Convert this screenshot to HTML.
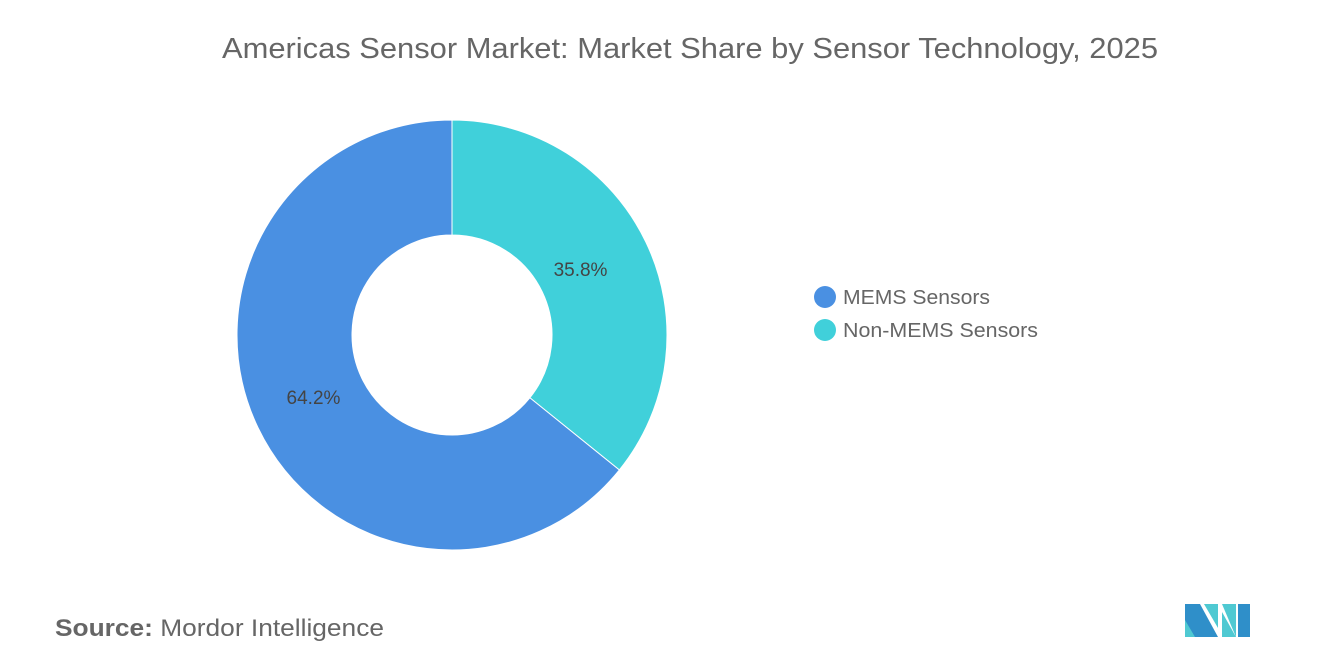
<!DOCTYPE html>
<html><head><meta charset="utf-8"><style>
body{margin:0;background:#fff;width:1320px;height:665px;overflow:hidden;font-family:"Liberation Sans",sans-serif}
</style></head><body>
<svg width="1320" height="665">
<text x="222" y="58" textLength="936" lengthAdjust="spacingAndGlyphs" font-size="29" fill="#666">Americas Sensor Market: Market Share by Sensor Technology, 2025</text>
<g id="pie"></g>
<g>
<g><circle cx="825" cy="297" r="11" fill="#4a90e2"/><text x="843" y="304" font-size="20" textLength="147" lengthAdjust="spacingAndGlyphs" fill="#666">MEMS Sensors</text></g>
<g><circle cx="825" cy="330" r="11" fill="#40d0da"/><text x="843" y="337" font-size="20" textLength="195" lengthAdjust="spacingAndGlyphs" fill="#666">Non-MEMS Sensors</text></g>
</g>
<text x="55" y="636" font-size="24" textLength="329" lengthAdjust="spacingAndGlyphs" fill="#666"><tspan font-weight="bold">Source:</tspan>  Mordor Intelligence</text>
<g>
<polygon points="1185,604 1200,604 1218,637 1185,637" fill="#2f8fc9"/>
<polygon points="1185,620 1195,637 1185,637" fill="#4fc9d2"/>
<polygon points="1204,604 1218,604 1218,628" fill="#4fc9d2"/>
<polygon points="1222,604 1236,604 1236,637" fill="#4fc9d2"/>
<polygon points="1222,612 1236,637 1222,637" fill="#4fc9d2"/>
<polygon points="1238,604 1250,604 1250,637 1238,637" fill="#2f8fc9"/>
</g>
</svg>
<script>
const categories=["Non-MEMS Sensors","MEMS Sensors"];
const values=[35.8,64.2];
const colors=["#40d0da","#4a90e2"];
const cx=452,cy=335,R=215,r=100,lr=148;
const g=document.getElementById('pie');
const total=values.reduce((a,b)=>a+b,0);
let a0=0;
const pt=(rad,a)=>[cx+rad*Math.sin(a),cy-rad*Math.cos(a)];
values.forEach((v,i)=>{
 const a1=a0+v/total*2*Math.PI;const large=(a1-a0)>Math.PI?1:0;
 const [x0,y0]=pt(R,a0),[x1,y1]=pt(R,a1),[x2,y2]=pt(r,a1),[x3,y3]=pt(r,a0);
 const p=document.createElementNS('http://www.w3.org/2000/svg','path');
 p.setAttribute('d',`M${x0},${y0}A${R},${R} 0 ${large} 1 ${x1},${y1}L${x2},${y2}A${r},${r} 0 ${large} 0 ${x3},${y3}Z`);
 p.setAttribute('fill',colors[i]);p.setAttribute('stroke','#fff');p.setAttribute('stroke-width','1');
 
 
 g.appendChild(p);
 const [lx,ly]=pt(lr,(a0+a1)/2);
 const t=document.createElementNS('http://www.w3.org/2000/svg','text');
 t.setAttribute('x',lx-5);t.setAttribute('y',ly+5);t.setAttribute('text-anchor','middle');
 t.setAttribute('font-size','19');t.setAttribute('fill','#444');t.textContent=v.toFixed(1)+'%';
 
 
 g.appendChild(t);
 a0=a1;
});
</script>
</body></html>
